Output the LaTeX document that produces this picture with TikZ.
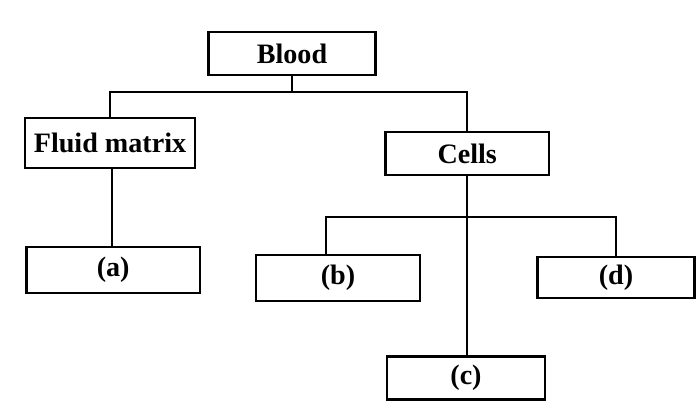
\documentclass[tikz,border=0pt]{standalone}
\usepackage{fontspec}
\setmainfont{Liberation Serif}
\usepackage{tikz}
\usetikzlibrary{calc}

\begin{document}
\begin{tikzpicture}[line width=1.7pt,
    box/.style={draw, inner sep=0pt, minimum height=1.1cm,
      font=\bfseries\fontsize{20}{24}\selectfont}]
  \useasboundingbox (0,0) rectangle (17.425,-10.075);
  % top
  \node[box, minimum width=4.18cm, minimum height=1.08cm] (blood) at (7.3,-1.34) {Blood};
  \coordinate (bar1) at (0,-2.3);
  % second level
  \node[box, minimum width=4.25cm, minimum height=1.25cm] (fluid) at (2.75,-3.58) {Fluid matrix};
  \node[box, minimum width=4.08cm, minimum height=1.08cm] (cells) at (11.68,-3.84) {Cells};
  \draw (blood.south) -- (blood.south |- bar1);
  \draw (fluid.north) -- (fluid.north |- bar1) -- (cells.north |- bar1) -- (cells.north);
  % blanks
  \node[box, minimum width=4.33cm, minimum height=1.15cm] (a) at (2.83,-6.75) {(a)};
  \node[box, minimum width=4.1cm, minimum height=1.15cm] (b) at (8.45,-6.95) {(b)};
  \node[box, minimum width=3.93cm, minimum height=1.03cm] (d) at (15.4,-6.94) {(d)};
  \node[box, minimum width=3.95cm, minimum height=1.08cm] (c) at (11.65,-9.45) {(c)};
  \coordinate (bar2) at (8.15,-5.43);
  \draw (fluid.south -| 2.8,0) -- (a.north -| 2.8,0);
  \draw (cells.south) -- (cells.south |- c.north);
  \draw (bar2 |- b.north) -- (bar2) -- (bar2 -| d.north) -- (d.north);
\end{tikzpicture}
\end{document}
